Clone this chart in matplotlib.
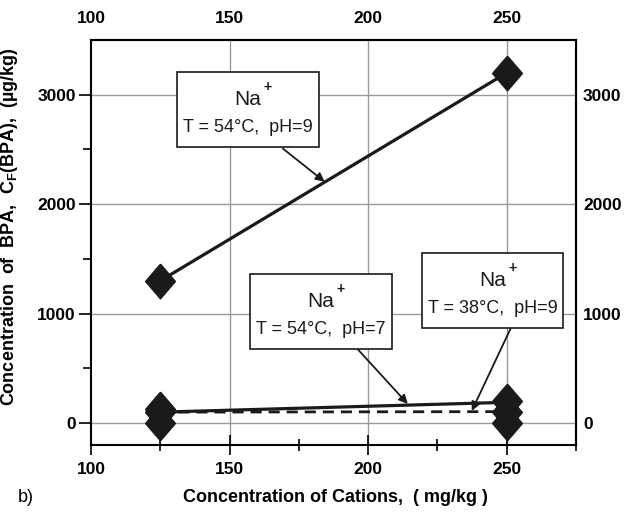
import matplotlib
matplotlib.use("Agg")
import matplotlib.pyplot as plt
from matplotlib.patches import Rectangle
from matplotlib.ticker import FixedLocator
from matplotlib import font_manager

names = {f.name for f in font_manager.fontManager.ttflist}
FONT = "Liberation Sans Narrow" if "Liberation Sans Narrow" in names else "Liberation Sans"
plt.rcParams["font.family"] = [FONT, "DejaVu Sans"]
plt.rcParams["mathtext.fontset"] = "custom"
plt.rcParams["mathtext.rm"] = FONT + ":bold"
plt.rcParams["mathtext.it"] = FONT + ":bold"
plt.rcParams["mathtext.bf"] = FONT + ":bold"
plt.rcParams["mathtext.default"] = "rm"

# ---- data ----
x_cations = [125, 250]
na_54_ph9 = [1300, 3200]
na_54_ph7 = [100, 190]
na_38_ph9 = [100, 105]
marker_x = [125, 125, 125, 250, 250, 250]
marker_y = [130, 100, 0, 205, 100, 0]

x_ticks = [100, 150, 200, 250]
y_ticks = [0, 1000, 2000, 3000]

TICKFS = 12.5

fig = plt.figure(figsize=(6.32, 5.13), dpi=100)
ax = fig.add_axes([91/632, 1-445/513, 485/632, 405/513])
ax.set_xlim(100, 275)
ax.set_ylim(-200, 3500)

for v in [150, 200, 250]:
    ax.axvline(v, color="#9a9a9a", lw=1.0, zorder=0)
for v in y_ticks:
    ax.axhline(v, color="#9a9a9a", lw=1.0, zorder=0)

diamond = [(0, 1), (0.86, 0), (0, -1), (-0.86, 0), (0, 1)]
ax.plot(x_cations, na_54_ph9, color="#1a1a1a", lw=2.3, zorder=3)
ax.plot(x_cations, na_54_ph7, color="#1a1a1a", lw=2.3, zorder=3)
ax.plot(x_cations, na_38_ph9, color="#1a1a1a", lw=2.0, ls=(0, (4, 2.5)), zorder=3)
ax.plot(x_cations, na_54_ph9, ls="none", marker=diamond, ms=25, color="#1a1a1a", zorder=4)
ax.plot(marker_x, marker_y, ls="none", marker=diamond, ms=25, color="#1a1a1a", zorder=4)

# ticks
ax.xaxis.set_major_locator(FixedLocator(x_ticks))
ax.xaxis.set_minor_locator(FixedLocator([125, 175, 225, 275]))
ax.yaxis.set_major_locator(FixedLocator(y_ticks))
ax.yaxis.set_minor_locator(FixedLocator([500, 1500, 2500]))
ax.tick_params(axis="x", which="major", direction="inout", length=14, width=1.2, pad=5)
ax.tick_params(axis="x", which="minor", direction="inout", length=9, width=1.2)
ax.tick_params(axis="y", which="major", direction="out", length=9, width=1.2, pad=2)
ax.tick_params(axis="y", which="minor", direction="out", length=6, width=1.2)
ax.xaxis.set_ticklabels([str(v) for v in x_ticks], fontweight="bold", fontsize=TICKFS)
ax.yaxis.set_ticklabels([str(v) for v in y_ticks], fontweight="bold", fontsize=TICKFS)
for s in ax.spines.values():
    s.set_linewidth(1.5)

top = ax.secondary_xaxis("top")
top.xaxis.set_major_locator(FixedLocator(x_ticks))
top.xaxis.set_ticklabels([str(v) for v in x_ticks], fontweight="bold", fontsize=TICKFS)
top.tick_params(length=0, pad=10)
top.spines["top"].set_linewidth(1.5)

right = ax.secondary_yaxis("right")
right.yaxis.set_major_locator(FixedLocator(y_ticks))
right.yaxis.set_ticklabels([str(v) for v in y_ticks], fontweight="bold", fontsize=TICKFS)
right.tick_params(length=0, pad=5)
right.spines["right"].set_linewidth(1.5)

ax.set_ylabel(r"Concentration  of  BPA,  C$_\mathrm{F}$(BPA),  (µg/kg)",
              fontsize=13, fontweight="bold")
ax.yaxis.set_label_coords(-0.146, 0.54)
ax.set_xlabel("Concentration of Cations,  ( mg/kg )", fontsize=13, fontweight="bold")
ax.xaxis.set_label_coords(0.503, -0.108)

fig.text(18/632, 1-497/513, "b)", fontsize=13, va="center", ha="left",
         family=["Liberation Sans", "DejaVu Sans"])

# boxes
boxes = [
    ((0.1773, 0.7358), 0.2928, "T = 54°C,  pH=9"),
    ((0.3278, 0.2370), 0.2928, "T = 54°C,  pH=7"),
    ((0.6825, 0.2889), 0.2907, "T = 38°C,  pH=9"),
]
bh = 0.1852
for (x0, y0), w, txt in boxes:
    ax.add_patch(Rectangle((x0, y0), w, bh, transform=ax.transAxes,
                           facecolor="white", edgecolor="#1a1a1a", lw=1.2, zorder=5))
    ax.text(x0 + w/2, y0 + bh*0.63, "Na", transform=ax.transAxes,
            ha="center", va="center", fontsize=15, zorder=6, color="#1a1a1a")
    ax.text(x0 + w/2 + 0.032, y0 + bh*0.80, "+", transform=ax.transAxes,
            ha="left", va="center", fontsize=10, fontweight="bold", zorder=6, color="#1a1a1a")
    ax.text(x0 + w/2, y0 + bh*0.26, txt, transform=ax.transAxes,
            ha="center", va="center", fontsize=13, zorder=6, color="#1a1a1a")

arrows = [
    ((169.2, 2509), (184.3, 2205)),
    ((196.3, 673), (214.3, 175)),
    ((251.4, 864), (237.4, 112)),
]
for start, end in arrows:
    ax.annotate("", xy=end, xytext=start, xycoords="data", textcoords="data",
                arrowprops=dict(arrowstyle="-|>", color="#1a1a1a", lw=1.3,
                                mutation_scale=13, shrinkA=0, shrinkB=0), zorder=6)

fig.savefig("out.png", dpi=100)
